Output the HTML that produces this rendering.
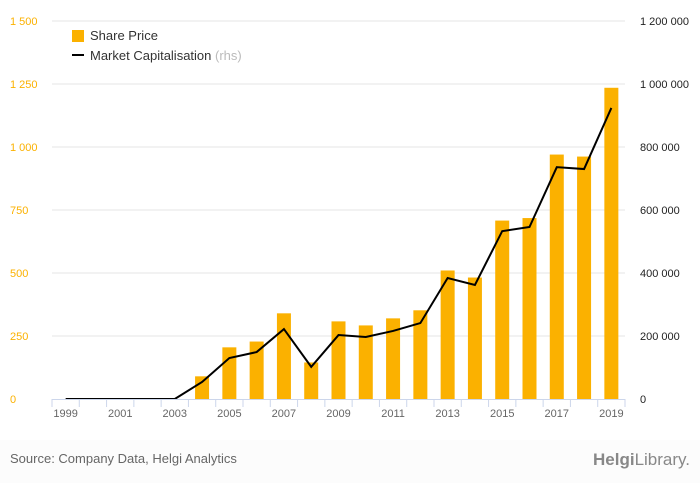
<!DOCTYPE html>
<html><head><meta charset="utf-8"><style>
body{margin:0;background:#fff;width:700px;height:483px;overflow:hidden;font-family:"Liberation Sans",sans-serif}
svg text{font-family:"Liberation Sans",sans-serif}
</style></head><body>
<svg id="chart" width="700" height="483" xmlns="http://www.w3.org/2000/svg">
<rect x="0" y="0" width="700" height="483" fill="#fcfcfc"/>
<rect x="0" y="0" width="700" height="440" fill="#ffffff"/>
<g id="grid"></g>
<g id="bars"></g>
<path id="line" fill="none" stroke="#000" stroke-width="2"/>
<g id="axes"></g>
<g>
<rect x="72" y="30" width="12" height="12" fill="#fbb100"/>
<text x="90" y="40" font-size="13" fill="#333">Share Price</text>
<rect x="72" y="54" width="12" height="2" fill="#000"/>
<text x="90" y="60" font-size="13" fill="#333">Market Capitalisation <tspan fill="#bbb">(rhs)</tspan></text>
</g>
<text x="10" y="463" font-size="13" fill="#666">Source: Company Data, Helgi Analytics</text>
<text x="690" y="465" font-size="17" fill="#888" text-anchor="end"><tspan font-weight="bold">Helgi</tspan>Library.</text>
</svg>
<script>
const years=[1999,2000,2001,2002,2003,2004,2005,2006,2007,2008,2009,2010,2011,2012,2013,2014,2015,2016,2017,2018,2019];
const sharePrice=[0,0,0,0,0,90,205,228,340,145,308,292,320,352,510,482,708,718,970,962,1235];
const marketCap=[0,0,0,0,0,54000,130000,149000,222000,102000,203000,197000,216000,241000,384000,362000,533000,546000,736000,730000,924000];
const leftTicks=[0,250,500,750,1000,1250,1500];
const leftLabels=["0","250","500","750","1 000","1 250","1 500"];
const rightTicks=[0,200000,400000,600000,800000,1000000,1200000];
const rightLabels=["0","200 000","400 000","600 000","800 000","1 000 000","1 200 000"];
const NS="http://www.w3.org/2000/svg";
const x0=52,x1=625,yb=399,yt=21;
const band=(x1-x0)/years.length;
const xc=i=>x0+band*(i+0.5);
const yl=v=>yb-(v/1500)*(yb-yt);
const yr=v=>yb-(v/1200000)*(yb-yt);
function mk(tag,attrs,parent){const e=document.createElementNS(NS,tag);for(const k in attrs)e.setAttribute(k,attrs[k]);parent.appendChild(e);return e;}
const grid=document.getElementById('grid'),axes=document.getElementById('axes'),bars=document.getElementById('bars');
leftTicks.forEach((t,i)=>{
 if(t>0){const g=mk('line',{x1:x0,x2:x1,y1:yl(t),y2:yl(t),stroke:'#e6e6e6'},grid);
 
 }
 const tx=mk('text',{x:10,y:yl(t)+4,'font-size':11,fill:'#fbb100'},axes);tx.textContent=leftLabels[i];
 
 
});
rightTicks.forEach((t,i)=>{
 const tx=mk('text',{x:640,y:yr(t)+4,'font-size':11,fill:'#222'},axes);tx.textContent=rightLabels[i];
 
 
});
sharePrice.forEach((v,i)=>{
 if(v<=0)return;
 const r=mk('rect',{x:xc(i)-7,y:yl(v),width:14,height:yb-yl(v),fill:'#fbb100'},bars);
 
 
});
document.getElementById('line').setAttribute('d',marketCap.map((v,i)=>(i?'L':'M')+xc(i)+','+yr(v)).join(''));
const al=mk('line',{x1:x0,x2:x1,y1:yb+0.5,y2:yb+0.5,stroke:'#ccd6eb'},axes);


for(let i=0;i<=years.length;i++){
 const tk=mk('line',{x1:x0+band*i,x2:x0+band*i,y1:yb,y2:yb+8,stroke:'#ccd6eb'},axes);
 
 
}
years.forEach((y,i)=>{
 if(i%2)return;
 const tx=mk('text',{x:xc(i),y:417,'font-size':11,fill:'#666','text-anchor':'middle'},axes);tx.textContent=y;
 
 
});
</script>
</body></html>
